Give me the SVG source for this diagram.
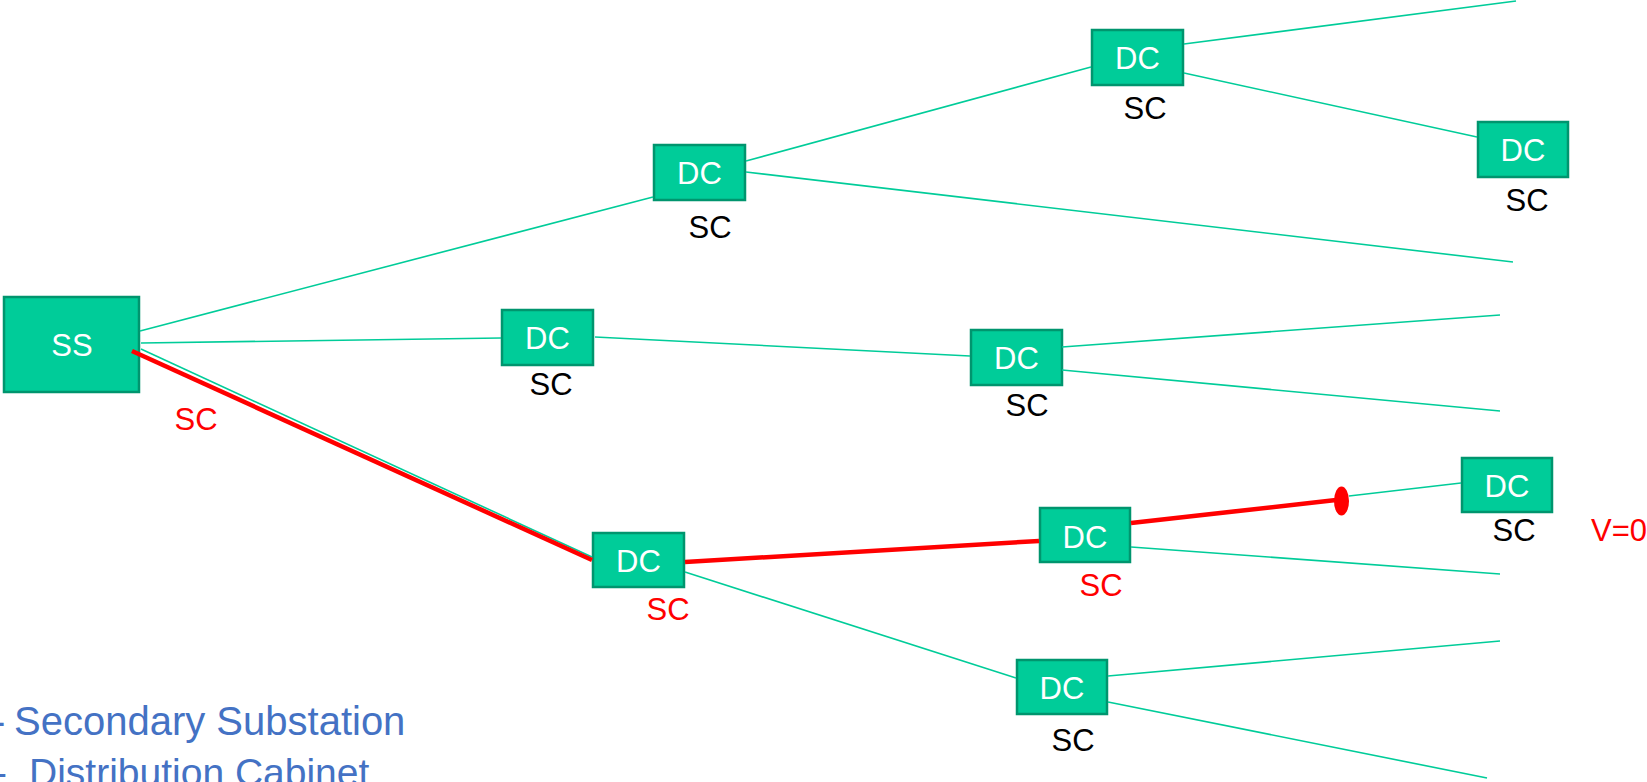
<svg xmlns="http://www.w3.org/2000/svg" width="1647" height="782" viewBox="0 0 1647 782">
  <style>
    .box { fill: #00CC99; stroke: #00956E; stroke-width: 2.5; }
    .name { font-family: "Liberation Sans", Arial, sans-serif; font-size: 31px; fill: #FFFFFF; text-anchor: middle; }
    .sc { font-family: "Liberation Sans", Arial, sans-serif; font-size: 31px; fill: #000000; text-anchor: middle; }
    .red { fill: #FF0000; }
    .fault { fill: #FF0000; }
    .wire { stroke: #00CC99; stroke-width: 1.6; fill: none; }
    .hot { stroke: #FF0000; stroke-width: 4.5; fill: none; }
    .legend { font-family: "Liberation Sans", Arial, sans-serif; fill: #4472C4; }
  </style>
  <rect width="1647" height="782" fill="#FFFFFF"/>

  <g id="ss">
    <rect class="box" x="4" y="297" width="135" height="95"/>
    <text class="name" x="72" y="356">SS</text>
    <text class="sc red" x="196" y="430">SC</text>
  </g>

  <g id="dc1">
    <rect class="box" x="654" y="145" width="91" height="55"/>
    <text class="name" x="699.5" y="184">DC</text>
    <text class="sc" x="710" y="238">SC</text>
  </g>

  <g id="dc2">
    <rect class="box" x="502" y="310" width="91" height="55"/>
    <text class="name" x="547.5" y="349">DC</text>
    <text class="sc" x="551" y="395">SC</text>
  </g>

  <g id="dc3">
    <rect class="box" x="1092" y="30" width="91" height="55"/>
    <text class="name" x="1137.5" y="69">DC</text>
    <text class="sc" x="1145" y="119">SC</text>
  </g>

  <g id="dc4">
    <rect class="box" x="1478" y="122" width="90" height="55"/>
    <text class="name" x="1523" y="161">DC</text>
    <text class="sc" x="1527" y="211">SC</text>
  </g>

  <g id="dc5">
    <rect class="box" x="971" y="330" width="91" height="55"/>
    <text class="name" x="1016.5" y="369">DC</text>
    <text class="sc" x="1027" y="416">SC</text>
  </g>

  <g id="dc6">
    <rect class="box" x="1462" y="458" width="90" height="54"/>
    <text class="name" x="1507" y="497">DC</text>
    <text class="sc" x="1514" y="541">SC</text>
    <text class="sc red" x="1591" y="541" style="text-anchor:start">V=0</text>
  </g>

  <g id="dc7">
    <rect class="box" x="1040" y="508" width="90" height="54"/>
    <text class="name" x="1085" y="548">DC</text>
    <text class="sc red" x="1101" y="596">SC</text>
  </g>

  <g id="dc8">
    <rect class="box" x="593" y="533" width="91" height="54"/>
    <text class="name" x="638.5" y="572">DC</text>
    <text class="sc red" x="668" y="620">SC</text>
  </g>

  <g id="dc9">
    <rect class="box" x="1017" y="660" width="90" height="54"/>
    <text class="name" x="1062" y="699">DC</text>
    <text class="sc" x="1073" y="751">SC</text>
  </g>

  <!-- feeders, drawn over the boxes so the faulted run starts inside SS -->
  <g id="connectors">
    <line class="wire" x1="140" y1="331" x2="653" y2="197"/>
    <line class="wire" x1="141" y1="343" x2="501" y2="338"/>
    <line class="wire" x1="141" y1="349" x2="592" y2="557"/>
    <line class="wire" x1="746" y1="161" x2="1091" y2="67"/>
    <line class="wire" x1="746" y1="172" x2="1513" y2="262"/>
    <line class="wire" x1="1184" y1="44" x2="1516" y2="1"/>
    <line class="wire" x1="1184" y1="73" x2="1477" y2="137"/>
    <line class="wire" x1="595" y1="337" x2="970" y2="356"/>
    <line class="wire" x1="1062" y1="347" x2="1500" y2="315"/>
    <line class="wire" x1="1062" y1="370" x2="1500" y2="411"/>
    <line class="wire" x1="685" y1="572" x2="1016" y2="678"/>
    <line class="wire" x1="1349" y1="496" x2="1461" y2="483"/>
    <line class="wire" x1="1131" y1="547" x2="1500" y2="574"/>
    <line class="wire" x1="1108" y1="676" x2="1500" y2="641"/>
    <line class="wire" x1="1108" y1="702" x2="1487" y2="778"/>
    <!-- faulted path -->
    <line class="hot" x1="132" y1="351" x2="592" y2="560"/>
    <line class="hot" x1="685" y1="562" x2="1039" y2="541"/>
    <line class="hot" x1="1131" y1="523" x2="1336" y2="500"/>
    <ellipse class="fault" cx="1341.5" cy="501" rx="7.5" ry="14.5"/>
  </g>

  <g id="legend">
    <text class="legend" y="735" font-size="40"><tspan x="-8">-</tspan><tspan x="14">Secondary Substation</tspan></text>
    <text class="legend" y="786" font-size="39"><tspan x="-6">-</tspan><tspan x="29">Distribution Cabinet</tspan></text>
  </g>
</svg>
